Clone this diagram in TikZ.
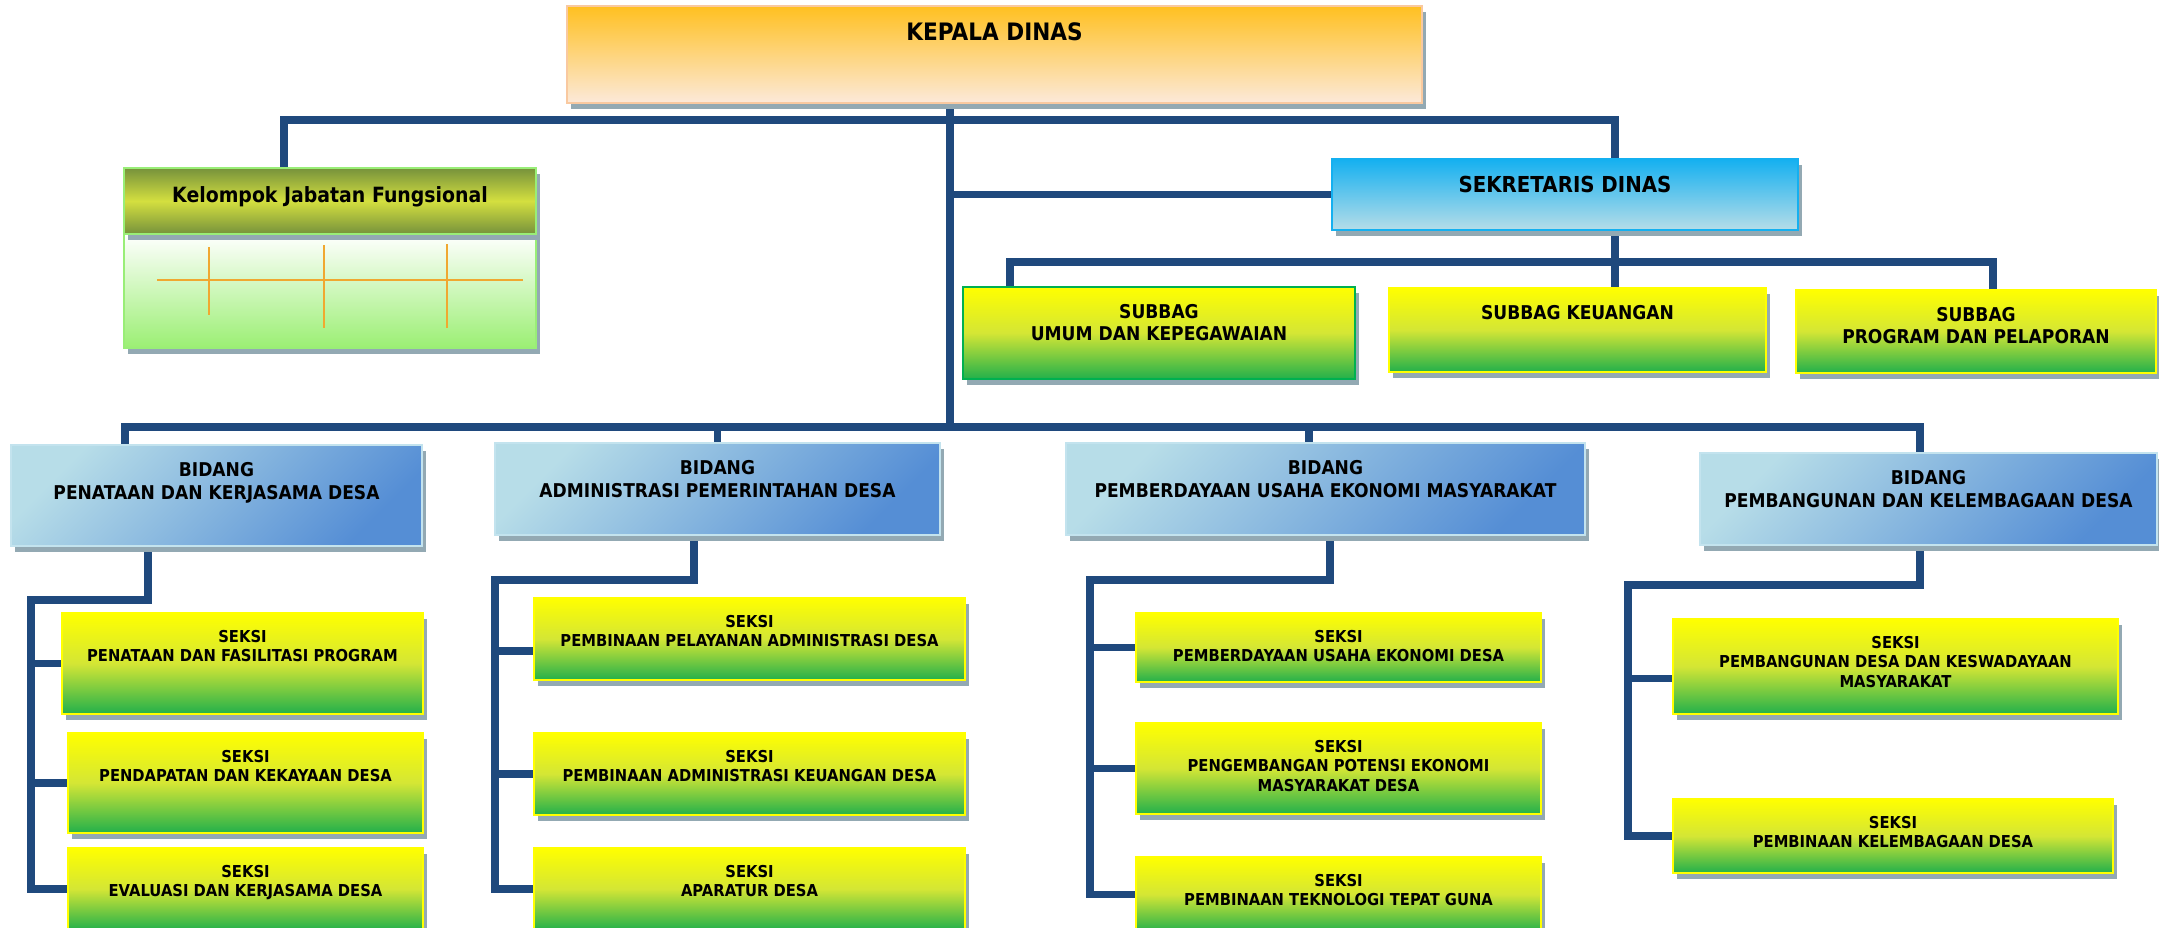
\documentclass[tikz,border=0pt]{standalone}
\usepackage{fontspec}
\setmainfont{DejaVu Sans}[FakeStretch=0.9]
\usetikzlibrary{positioning,shadows,backgrounds}

\definecolor{linkblue}{HTML}{1F497D}
\definecolor{shadowgray}{HTML}{93A9B3}
\definecolor{kadistop}{HTML}{FFC020}
\definecolor{kadisbot}{HTML}{FCE9DA}
\definecolor{kadisline}{HTML}{F9C9A0}
\definecolor{jfdark}{HTML}{76923C}
\definecolor{jfmid}{HTML}{D4DF3F}
\definecolor{jfline}{HTML}{99EE77}
\definecolor{jfgreen}{HTML}{9BEF73}
\definecolor{sektop}{HTML}{14B0F0}
\definecolor{sekbot}{HTML}{B6DDE8}
\definecolor{bidtop}{HTML}{B7DDE8}
\definecolor{bidbot}{HTML}{558ED5}
\definecolor{bidline}{HTML}{C3E3EE}
\definecolor{seksitop}{HTML}{FFFF00}
\definecolor{seksimid}{HTML}{D4E635}
\definecolor{seksibot}{HTML}{22B04B}
\definecolor{umumline}{HTML}{00B050}
\definecolor{treeorange}{HTML}{F0A830}

\begin{document}
\begin{tikzpicture}[x=1pt, y=-1pt,
                    boxshadow/.style={drop shadow={shadow xshift=4pt, shadow yshift=-6pt, fill=shadowgray, opacity=1}},
                    wh/.style 2 args={anchor=north west, minimum width=#1pt, minimum height=#2pt, inner sep=0pt, outer sep=0pt},
                    kadis/.style={boxshadow, draw=kadisline, line width=2.5pt, top color=kadistop, bottom color=kadisbot},
                    jfhead/.style={boxshadow, draw=jfline, line width=2.5pt, top color=jfdark, bottom color=jfdark, middle color=jfmid},
                    jfbody/.style={boxshadow, draw=jfline, line width=2.5pt, top color=white, bottom color=jfgreen},
                    sekda/.style={boxshadow, draw=sektop, line width=2.5pt, top color=sektop, bottom color=sekbot},
                    bidang/.style={boxshadow, draw=bidline, line width=2.5pt, top color=bidtop, bottom color=bidbot, shading angle=45},
                    seksi/.style={boxshadow, draw=seksitop, line width=2.5pt, top color=seksitop, bottom color=seksibot, middle color=seksimid},
                    headtext/.style={font=\fontsize{24}{28}\selectfont\bfseries, inner sep=0pt, align=center},
                    sektext/.style={font=\fontsize{22}{26}\selectfont\bfseries, inner sep=0pt, align=center},
                    subtext/.style={font=\fontsize{19}{22}\selectfont\bfseries, inner sep=0pt, align=center},
                    bidtext/.style={font=\fontsize{19}{23}\selectfont\bfseries, inner sep=0pt, align=center},
                    seksitext/.style={font=\fontsize{16.4}{19.5}\selectfont\bfseries, inner sep=0pt, align=center},
                    conn/.style={draw=linkblue, line width=7.5pt},
                    tree/.style={draw=treeorange, line width=2pt}]
    \useasboundingbox (0,0) rectangle (2159,928);
    \clip (0,0) rectangle (2159,928);

    \node[kadis, wh={855}{97}] (kadis) at (567,6) {};
    \node[headtext, below=16pt of kadis.north] (kadist) {KEPALA DINAS};

    \node[jfbody, wh={412}{114}] (jfbody) at (124,234) {};
    \draw[tree] (157,280) -- (523,280);
    \foreach \x/\a/\b in {209/247/315, 324/245/328, 447/244/328}
        \draw[tree] (\x,\a) -- (\x,\b);
    \node[jfhead, wh={412}{66}] (jfhead) at (124,168) {};
    \node[subtext, font=\fontsize{21}{25}\selectfont\bfseries] (jft) at ([yshift=4pt]jfhead.center) {Kelompok Jabatan Fungsional};

    \node[sekda, wh={466}{71}] (sekda) at (1332,159) {};
    \node[sektext, below=17pt of sekda.north] (sekdat) {SEKRETARIS DINAS};

    \node[seksi, draw=umumline, wh={392}{92}] (umum) at (963,287) {};
    \node[subtext, below=17pt of umum.north] (umumt) {SUBBAG\\UMUM DAN KEPEGAWAIAN};
    \node[seksi, wh={377}{84}] (keuangan) at (1389,288) {};
    \node[subtext, below=17pt of keuangan.north] (keuangant) {SUBBAG KEUANGAN};
    \node[seksi, wh={360}{83}] (program) at (1796,290) {};
    \node[subtext, below=17pt of program.north] (programt) {SUBBAG\\PROGRAM DAN PELAPORAN};

    \node[bidang, wh={411}{101}] (b1) at (11,445) {};
    \node[bidtext, below=17pt of b1.north] (b1t) {BIDANG\\PENATAAN DAN KERJASAMA DESA};
    \node[bidang, wh={445}{92}] (b2) at (495,443) {};
    \node[bidtext, below=17pt of b2.north] (b2t) {BIDANG\\ADMINISTRASI PEMERINTAHAN DESA};
    \node[bidang, wh={519}{92}] (b3) at (1066,443) {};
    \node[bidtext, below=17pt of b3.north] (b3t) {BIDANG\\PEMBERDAYAAN USAHA EKONOMI MASYARAKAT};
    \node[bidang, wh={457}{92}] (b4) at (1700,453) {};
    \node[bidtext, below=17pt of b4.north] (b4t) {BIDANG\\PEMBANGUNAN DAN KELEMBAGAAN DESA};

    \node[seksi, wh={361}{101}] (s1a) at (62,613) {};
    \node[seksitext, below=17pt of s1a.north] (s1at) {SEKSI\\PENATAAN DAN FASILITASI PROGRAM};
    \node[seksi, wh={355}{100}] (s1b) at (68,733) {};
    \node[seksitext, below=17pt of s1b.north] (s1bt) {SEKSI\\PENDAPATAN DAN KEKAYAAN DESA};
    \node[seksi, wh={355}{82}] (s1c) at (68,848) {};
    \node[seksitext, below=17pt of s1c.north] (s1ct) {SEKSI\\EVALUASI DAN KERJASAMA DESA};

    \node[seksi, wh={431}{82}] (s2a) at (534,598) {};
    \node[seksitext, below=17pt of s2a.north] (s2at) {SEKSI\\PEMBINAAN PELAYANAN ADMINISTRASI DESA};
    \node[seksi, wh={431}{82}] (s2b) at (534,733) {};
    \node[seksitext, below=17pt of s2b.north] (s2bt) {SEKSI\\PEMBINAAN ADMINISTRASI KEUANGAN DESA};
    \node[seksi, wh={431}{82}] (s2c) at (534,848) {};
    \node[seksitext, below=17pt of s2c.north] (s2ct) {SEKSI\\APARATUR DESA};

    \node[seksi, wh={405}{69}] (s3a) at (1136,613) {};
    \node[seksitext, below=17pt of s3a.north] (s3at) {SEKSI\\PEMBERDAYAAN USAHA EKONOMI DESA};
    \node[seksi, wh={405}{91}] (s3b) at (1136,723) {};
    \node[seksitext, below=17pt of s3b.north] (s3bt) {SEKSI\\PENGEMBANGAN POTENSI EKONOMI\\MASYARAKAT DESA};
    \node[seksi, wh={405}{75}] (s3c) at (1136,857) {};
    \node[seksitext, below=17pt of s3c.north] (s3ct) {SEKSI\\PEMBINAAN TEKNOLOGI TEPAT GUNA};

    \node[seksi, wh={445}{95}] (s4a) at (1673,619) {};
    \node[seksitext, below=17pt of s4a.north] (s4at) {SEKSI\\PEMBANGUNAN DESA DAN KESWADAYAAN\\MASYARAKAT};
    \node[seksi, wh={440}{74}] (s4b) at (1673,799) {};
    \node[seksitext, below=17pt of s4b.north] (s4bt) {SEKSI\\PEMBINAAN KELEMBAGAAN DESA};

    \begin{scope}[on background layer]
        \coordinate (hub) at (950,427);
        \coordinate (tl) at (284,120);
        \coordinate (tr) at (1615,120);
        \coordinate (sl) at (1010,262);
        \coordinate (sr) at (1993,262);
        \coordinate (bl) at (125,427);
        \coordinate (br) at (1920,427);
        \coordinate (d3) at (1309,427);
        \coordinate (k1) at (148,600);
        \coordinate (c1) at (31,600);
        \coordinate (k2) at (694,580);
        \coordinate (c2) at (495,580);
        \coordinate (k3) at (1330,580);
        \coordinate (c3) at (1090,580);
        \coordinate (k4) at (1920,585);
        \coordinate (c4) at (1628,585);

        \draw[conn] (kadis.south -| hub) -- (hub);
        \draw[conn] (jfhead.north -| tl) -- (tl) -- (tr) -- (sekda.north -| tr);
        \draw[conn] (sekda.west -| hub) -- (sekda.west);
        \draw[conn] (sekda.south -| tr) -- (keuangan.north -| tr);
        \draw[conn] (umum.north -| sl) -- (sl) -- (sr) -- (program.north -| sr);

        \draw[conn] (b1.north -| bl) -- (bl) -- (br) -- (b4.north -| br);
        \draw[conn] (b2.north |- hub) -- (b2.north);
        \draw[conn] (d3) -- (b3.north -| d3);

        \draw[conn] (b1.south -| k1) -- (k1) -- (c1) |- (s1c.west);
        \draw[conn] (s1a.west -| c1) -- (s1a.west);
        \draw[conn] (s1b.west -| c1) -- (s1b.west);

        \draw[conn] (b2.south -| k2) -- (k2) -- (c2) |- (s2c.west);
        \draw[conn] ([yshift=-12pt]s2a.west -| c2) -- ([yshift=-12pt]s2a.west);
        \draw[conn] (s2b.west -| c2) -- (s2b.west);

        \draw[conn] (b3.south -| k3) -- (k3) -- (c3) |- (s3c.west);
        \draw[conn] (s3a.west -| c3) -- (s3a.west);
        \draw[conn] (s3b.west -| c3) -- (s3b.west);

        \draw[conn] (b4.south -| k4) -- (k4) -- (c4) |- (s4b.west);
        \draw[conn] ([yshift=-12pt]s4a.west -| c4) -- ([yshift=-12pt]s4a.west);
    \end{scope}
\end{tikzpicture}
\end{document}
